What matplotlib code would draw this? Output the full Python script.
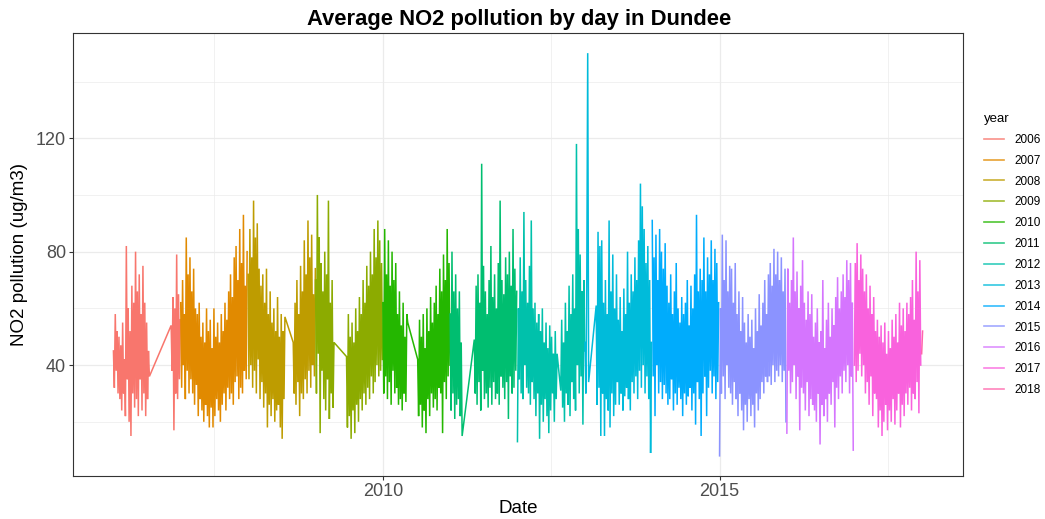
import numpy as np
import matplotlib.pyplot as plt
from matplotlib.lines import Line2D

plt.rcParams["font.family"] = ["Liberation Sans", "DejaVu Sans"]

# readings are taken every STEP_DAYS days from the start of each run
STEP_DAYS = 5

years   = [2006, 2007, 2008, 2009, 2010, 2011, 2012, 2013, 2014, 2015, 2016, 2017, 2018]
colours = ["#F8766D", "#E18A00", "#BE9C00", "#8CAB00", "#24B700", "#00BE70", "#00C1AB",
           "#00BBDA", "#00ACFC", "#8B93FF", "#D575FE", "#F962DD", "#FF65AC"]

no2_2006a = [45, 32, 58, 38, 52, 30, 50, 28, 47, 24, 55, 30, 42, 22, 82, 35, 60, 20,
             52, 15, 68, 30, 62, 25, 80, 28, 66, 22, 72, 35, 58, 24, 75, 30, 62, 22,
             55, 28, 45, 36]
no2_2006b = [54, 38, 64, 17, 60, 30, 79, 28, 65, 35, 56]
no2_2007  = [62, 32, 70, 40, 58, 28, 85, 38, 72, 30, 78, 35, 66, 30, 74, 26, 60, 33,
             58, 22, 62, 28, 50, 24, 55, 20, 48, 26, 60, 22, 52, 18, 56, 25, 46, 18,
             60, 22, 50, 28, 55, 24, 48, 20, 58, 26, 52, 30, 62, 24, 56, 32, 66, 28,
             72, 30, 64, 26, 78, 34, 82, 36, 70, 28, 88, 32, 76, 30, 93, 38, 68, 35, 80]
no2_2008a = [72, 35, 88, 40, 78, 32, 98, 38, 85, 30, 90, 42, 74, 28, 68, 34, 72, 25,
             62, 30, 74, 18, 58, 26, 66, 22, 55, 28, 60, 20, 52, 24, 64, 26, 50, 18,
             58, 14, 52, 28, 57]
no2_2008b = [48, 30, 62, 26, 70, 34, 58, 22, 75, 30, 66, 28, 84, 35, 72, 30, 91, 38,
             78, 32, 86, 40, 65, 36, 74]
no2_2009a = [70, 30, 100, 44, 85, 16, 76, 38, 66, 28, 80, 24, 72, 35, 98, 21, 62, 30,
             70, 25, 48]
no2_2009b = [43, 18, 58, 22, 50, 14, 55, 24, 48, 16, 60, 26, 52, 20, 64, 28, 58, 24,
             70, 30, 62, 26, 75, 32, 68, 28, 80, 36, 72, 30, 88, 34, 78, 40, 91, 36,
             84, 38, 76, 42]
no2_2010a = [62, 30, 88, 36, 72, 28, 84, 34, 68, 26, 80, 38, 70, 30, 76, 32, 58, 26,
             66, 28, 54, 24, 62, 30, 50, 27, 58, 55]
no2_2010b = [42, 22, 56, 26, 50, 18, 58, 24, 46, 16, 60, 28, 52, 22, 64, 30, 55, 25,
             62, 28, 68, 24, 58, 32, 74, 30, 66, 16, 79, 34, 70, 28, 88, 36, 76, 40]
no2_2011a = [58, 24, 80, 30, 66, 21, 72, 26, 60, 28, 66, 22, 48, 15]
no2_2011b = [49, 30, 68, 26, 72, 34, 62, 24, 111, 38, 75, 28, 66, 30, 58, 25, 70, 32,
             82, 26, 64, 34, 72, 28, 60, 30, 76, 26, 98, 36, 70, 32, 65, 28, 78, 34,
             72, 21, 80, 36, 68, 30, 88, 32, 74, 38, 66]
no2_2012a = [13, 60, 35, 78, 30, 66, 28, 94, 40, 70, 32, 62, 30, 75, 26, 91, 34, 60,
             28, 62, 22, 55, 30, 58, 14, 52, 26, 60, 20, 48, 28, 55, 22, 46, 16, 54,
             24, 50, 30, 44, 20, 52, 28, 44]
no2_2012b = [31, 56, 25, 48, 20, 62, 30, 52, 26, 68, 22, 58, 34, 72, 28, 60, 24, 118,
             40, 88, 30, 79, 36, 66, 19, 70, 45]
no2_2013a = [48, 30, 70, 150, 34]
no2_2013b = [61, 26, 87, 32, 82, 15, 84, 30, 62, 15, 70, 28, 58, 24, 91, 18, 66, 30,
             79, 22, 60, 26, 72, 34, 56, 26, 64, 30, 52, 24, 67, 29, 58, 32, 80, 28,
             62, 24, 72, 34, 66, 30, 78, 36, 70, 28, 84, 38, 104, 32, 96, 40, 88, 30,
             76, 36, 82, 28, 70, 9, 48]
no2_2014  = [91, 36, 78, 22, 86, 40, 70, 30, 88, 34, 80, 28, 74, 33, 83, 30, 68, 26,
             62, 28, 72, 35, 58, 24, 66, 30, 76, 26, 60, 32, 55, 28, 64, 22, 58, 30,
             62, 26, 70, 29, 54, 32, 68, 24, 60, 30, 72, 19, 93, 34, 66, 28, 74, 15,
             70, 30, 85, 36, 66, 22, 78, 32, 72, 38, 84, 30, 70, 36, 81, 28, 76, 34, 62]
no2_2015  = [8, 60, 30, 86, 36, 70, 28, 84, 40, 66, 32, 75, 30, 74, 26, 62, 34, 76,
             28, 58, 22, 66, 30, 52, 24, 64, 17, 55, 26, 48, 20, 58, 28, 50, 22, 56,
             26, 46, 18, 60, 30, 52, 24, 65, 28, 54, 34, 62, 30, 70, 36, 58, 34, 72,
             36, 76, 33, 68, 40, 81, 34, 72, 38, 80, 36, 70, 40, 78, 34, 66, 38, 74, 20]
no2_2016  = [16, 74, 38, 62, 30, 70, 34, 85, 40, 66, 28, 73, 36, 60, 17, 68, 32, 77,
             30, 62, 24, 56, 34, 66, 22, 58, 28, 65, 26, 50, 24, 55, 20, 60, 30, 48,
             12, 52, 26, 70, 22, 46, 28, 56, 20, 62, 30, 50, 26, 60, 34, 54, 18, 64,
             32, 71, 28, 60, 36, 66, 30, 72, 38, 64, 34, 77, 40, 70, 30, 76, 36, 62, 10]
no2_2017  = [40, 76, 34, 83, 38, 70, 44, 79, 36, 74, 40, 66, 30, 72, 34, 60, 26, 68,
             36, 58, 22, 64, 30, 52, 28, 56, 18, 50, 24, 54, 15, 48, 20, 55, 26, 44,
             17, 52, 24, 46, 20, 56, 28, 50, 19, 58, 24, 48, 30, 62, 18, 54, 26, 60,
             22, 52, 30, 62, 26, 58, 32, 64, 24, 70, 30, 56, 28, 80, 34, 66, 23, 77, 40]
no2_2018  = [44, 52]

runs = [
    (2006, "2006-01-01", no2_2006a), (2006, "2006-11-10", no2_2006b),
    (2007, "2007-01-01", no2_2007),
    (2008, "2008-01-01", no2_2008a), (2008, "2008-09-02", no2_2008b),
    (2009, "2009-01-01", no2_2009a), (2009, "2009-06-18", no2_2009b),
    (2010, "2010-01-01", no2_2010a), (2010, "2010-07-09", no2_2010b),
    (2011, "2011-01-01", no2_2011a), (2011, "2011-05-12", no2_2011b),
    (2012, "2012-01-01", no2_2012a), (2012, "2012-08-23", no2_2012b),
    (2013, "2013-01-01", no2_2013a), (2013, "2013-03-03", no2_2013b),
    (2014, "2014-01-01", no2_2014),
    (2015, "2015-01-01", no2_2015),
    (2016, "2016-01-01", no2_2016),
    (2017, "2017-01-01", no2_2017),
    (2018, "2018-01-01", no2_2018),
]

fig = plt.figure(figsize=(10.45, 5.19), dpi=100)
ax = fig.add_axes([0.0699, 0.0829, 0.8516, 0.8535])

# each year is its own group, so the line joins runs within a year only
series = {}
for year, start, values in runs:
    dates = np.datetime64(start) + np.arange(len(values)) * np.timedelta64(STEP_DAYS, "D")
    prev_d, prev_v = series.get(year, (np.array([], dtype="datetime64[D]"), []))
    series[year] = (np.concatenate([prev_d, dates]), list(prev_v) + list(values))

for year, colour in zip(years, colours):
    dates, values = series[year]
    ax.plot(dates, values, color=colour, lw=1.1, solid_joinstyle="miter")

# axis limits with the 5% padding on both sides
all_dates = np.concatenate([series[y][0] for y in years])
all_vals  = np.concatenate([series[y][1] for y in years])
x0, x1 = all_dates.min().astype("datetime64[D]"), all_dates.max().astype("datetime64[D]")
pad = (x1 - x0) * 0.05
ax.set_xlim(x0 - pad, x1 + pad)
vpad = (all_vals.max() - all_vals.min()) * 0.05
ax.set_ylim(all_vals.min() - vpad, all_vals.max() + vpad)

ax.set_xticks([np.datetime64("2010-01-01"), np.datetime64("2015-01-01")])
ax.set_xticklabels(["2010", "2015"])
ax.set_xticks([np.datetime64("2007-07-02"), np.datetime64("2012-07-02"),
               np.datetime64("2017-07-02")], minor=True)
ax.set_yticks([40, 80, 120])
ax.set_yticks([20, 60, 100, 140], minor=True)

ax.grid(which="major", color="#EBEBEB", lw=0.9)
ax.grid(which="minor", color="#EBEBEB", lw=0.5)
ax.set_axisbelow(True)
ax.tick_params(which="major", length=3, width=0.8, color="#333333",
               labelsize=13, labelcolor="#4D4D4D", pad=2)
ax.tick_params(which="minor", length=0)
for spine in ax.spines.values():
    spine.set_color("#333333")
    spine.set_linewidth(0.8)

ax.set_xlabel("Date", fontsize=13.5, labelpad=0)
ax.set_ylabel("NO2 pollution (ug/m3)", fontsize=13.5, labelpad=6)
fig.suptitle("Average NO2 pollution by day in Dundee", fontsize=15.8,
             fontweight="bold", x=0.497, y=0.982)

handles = [Line2D([], [], color=c, lw=1.2, alpha=0.8) for c in colours]
leg = ax.legend(handles, [str(y) for y in years], title="year", loc="upper left",
                bbox_to_anchor=(1.018, 0.83), frameon=False, fontsize=8.5,
                title_fontsize=9.5, labelspacing=0.75, handlelength=1.7,
                handletextpad=0.9, borderaxespad=0)
leg._legend_box.align = "left"

fig.savefig("out.png", dpi=100)
